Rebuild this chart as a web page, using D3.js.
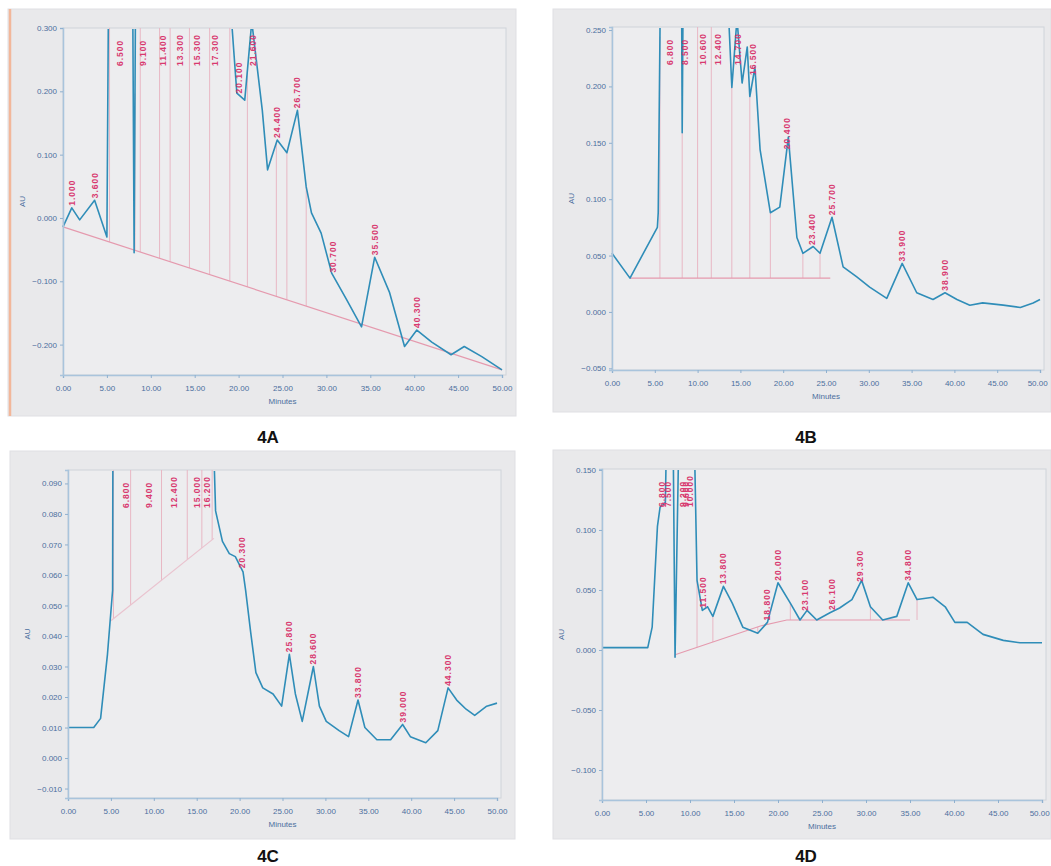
<!DOCTYPE html>
<html>
<head>
<meta charset="utf-8">
<script src="https://cdn.jsdelivr.net/npm/d3@7"></script>
<style>
  body { margin: 0; background: #fff; }
  svg { display: block; }
  text { font-family: "Liberation Sans", Arial, sans-serif; }
</style>
</head>
<body>
<svg id="fig" width="1051" height="866"></svg>
<script>
// DATA (minutes / AU)
const xTicks = [0, 5, 10, 15, 20, 25, 30, 35, 40, 45, 50];

// 4A
const timesA = [0.0,1.0,1.9,3.6,5.0,5.3,6.5,7.8,8.1,8.4,9.1,11.4,13.3,15.3,17.3,19.0,19.8,20.7,21.5,22.7,23.3,24.4,25.5,26.7,27.7,28.3,29.4,30.6,32.3,34.0,35.5,37.2,38.9,40.3,42.0,44.2,45.7,47.7,50.0];
const valuesA = [-0.014,0.016,-0.003,0.028,-0.030,0.60,0.80,0.70,-0.055,0.70,0.90,0.75,0.70,0.72,0.68,0.35,0.197,0.186,0.31,0.170,0.076,0.123,0.103,0.170,0.049,0.008,-0.024,-0.087,-0.129,-0.172,-0.062,-0.118,-0.203,-0.177,-0.196,-0.216,-0.203,-0.219,-0.240];
const baseTimesA = [0, 50];
const baseValuesA = [-0.014, -0.240];
const peakTimesA = [1.0,3.6,6.5,9.1,11.4,13.3,15.3,17.3,20.1,21.6,24.4,26.7,30.7,35.5,40.3];
const dropTimesA = [5.3,8.2,8.8,11.0,12.2,14.4,16.7,19.0,21.0,24.3,25.5,27.7];
const yTicksA = [0.3, 0.2, 0.1, 0.0, -0.1, -0.2];

// 4B
const timesB = [0,2.1,5.3,5.4,5.8,6.8,8.0,8.2,8.5,10.6,12.4,13.4,14.0,14.6,15.2,15.8,16.1,16.7,17.3,18.5,19.6,20.6,21.6,22.3,23.5,24.3,25.7,27.0,28.6,30.1,32.1,33.9,35.6,37.5,38.9,40.3,41.8,43.3,45.7,47.7,49.2,50.0];
const valuesB = [0.052,0.030,0.075,0.088,0.40,0.60,0.50,0.159,0.50,0.55,0.45,0.30,0.199,0.26,0.203,0.235,0.191,0.217,0.144,0.088,0.093,0.155,0.066,0.052,0.058,0.052,0.084,0.040,0.031,0.022,0.012,0.043,0.017,0.011,0.017,0.011,0.006,0.008,0.006,0.004,0.008,0.011];
const baseTimesB = [2.1, 25.5];
const baseValuesB = [0.030, 0.030];
const peakTimesB = [6.8,8.5,10.6,12.4,14.7,16.5,20.4,23.4,25.7,33.9,38.9];
const dropTimesB = [5.6,8.2,10.0,11.6,14.0,16.1,18.5,22.3,24.3];
const yTicksB = [0.25, 0.20, 0.15, 0.10, 0.05, 0.0, -0.05];

// 4C
const timesC = [0,3.0,3.8,4.6,5.2,5.3,6.8,9.4,12.4,15.0,16.2,16.8,17.2,18.0,18.8,19.5,20.4,20.7,21.3,21.9,22.7,23.9,24.9,25.8,26.5,27.3,28.6,29.3,30.1,31.6,32.7,33.8,34.6,36.0,37.6,39.0,39.9,41.7,43.1,44.3,45.3,46.4,47.4,48.8,50.0];
const valuesC = [0.010,0.010,0.013,0.034,0.055,0.20,0.30,0.28,0.30,0.25,0.22,0.12,0.081,0.071,0.067,0.066,0.061,0.055,0.041,0.028,0.023,0.021,0.017,0.034,0.021,0.012,0.030,0.017,0.012,0.009,0.007,0.019,0.010,0.006,0.006,0.011,0.007,0.005,0.009,0.023,0.019,0.016,0.014,0.017,0.018];
const baseTimesC = [5.0, 17.0];
const baseValuesC = [0.045, 0.072];
const peakTimesC = [6.8,9.4,12.4,15.0,16.2,20.3,25.8,28.6,33.8,39.0,44.3];
const dropTimesC = [5.3,7.3,10.9,13.9,15.6,16.8];
const yTicksC = [0.09, 0.08, 0.07, 0.06, 0.05, 0.04, 0.03, 0.02, 0.01, 0.0, -0.01];

// 4D
const timesD = [0,5.2,5.7,6.3,6.6,7.2,7.5,8.0,8.3,8.9,10.3,10.8,11.4,12.0,12.6,13.8,14.8,16.0,17.7,18.8,20.0,21.4,22.5,23.3,24.4,25.9,27.0,28.4,29.5,30.5,31.9,33.5,34.8,35.8,37.6,39.0,40.1,41.5,43.3,45.6,47.5,50.0];
const valuesD = [0.002,0.002,0.019,0.103,0.119,0.123,0.25,0.25,-0.006,0.25,0.25,0.058,0.033,0.036,0.028,0.053,0.039,0.019,0.014,0.023,0.056,0.039,0.025,0.033,0.025,0.031,0.035,0.042,0.058,0.036,0.025,0.028,0.056,0.042,0.044,0.036,0.023,0.023,0.013,0.008,0.006,0.006];
const baseTimesD = [8.3, 18.0, 21.0, 35.0];
const baseValuesD = [-0.004, 0.020, 0.025, 0.025];
const peakTimesD = [6.8,7.5,9.2,9.6,10.0,11.5,13.8,18.8,20.0,23.1,26.1,29.3,34.8];
const dropTimesD = [8.3,10.8,12.6,17.7,21.4,24.4,30.5,35.8];
const yTicksD = [0.15, 0.10, 0.05, 0.0, -0.05, -0.10];

// SETUP: panel layout
const panels = [
    { id: "A", caption: "4A", box: [8, 9, 508, 407], plot: { l: 63, r: 502, t: 28, b: 375 },
      yDomain: [-0.248, 0.30], yTicks: yTicksA, times: timesA, values: valuesA,
      baseT: baseTimesA, baseV: baseValuesA, peaks: peakTimesA, drops: dropTimesA,
      capX: 268, capY: 443, edge: true },
    { id: "B", caption: "4B", box: [553, 9, 498, 403], plot: { l: 612, r: 1040, t: 27, b: 370 },
      yDomain: [-0.0515, 0.2527], yTicks: yTicksB, times: timesB, values: valuesB,
      baseT: baseTimesB, baseV: baseValuesB, peaks: peakTimesB, drops: dropTimesB,
      capX: 806, capY: 443 },
    { id: "C", caption: "4C", box: [10, 451, 505, 388], plot: { l: 68, r: 497, t: 470, b: 798 },
      yDomain: [-0.0131, 0.0944], yTicks: yTicksC, times: timesC, values: valuesC,
      baseT: baseTimesC, baseV: baseValuesC, peaks: peakTimesC, drops: dropTimesC,
      capX: 268, capY: 862, faintBase: true },
    { id: "D", caption: "4D", box: [553, 450, 498, 389], plot: { l: 602, r: 1042, t: 469, b: 800 },
      yDomain: [-0.125, 0.1508], yTicks: yTicksD, times: timesD, values: valuesD,
      baseT: baseTimesD, baseV: baseValuesD, peaks: peakTimesD, drops: dropTimesD,
      capX: 806, capY: 862 }
];

const svg = d3.select("#fig");

panels.forEach(p => {
    const g = svg.append("g");
    const w = p.plot.r - p.plot.l, h = p.plot.b - p.plot.t;

    // panel background
    g.append("rect")
        .attr("x", p.box[0]).attr("y", p.box[1])
        .attr("width", p.box[2]).attr("height", p.box[3])
        .attr("fill", "#e9e9eb")
        .attr("stroke", "#dfdfe3");

    if (p.edge) {
        g.append("line")
            .attr("x1", p.box[0] + 2).attr("x2", p.box[0] + 2)
            .attr("y1", p.box[1]).attr("y2", p.box[1] + p.box[3])
            .attr("stroke", "#f2b79a").attr("stroke-width", 2.5);
    }

    // plot area
    g.append("rect")
        .attr("x", p.plot.l).attr("y", p.plot.t)
        .attr("width", w + 4).attr("height", h)
        .attr("fill", "#ededef")
        .attr("stroke", "#cfd4da");

    // scales
    const x = d3.scaleLinear().domain([0, 50]).range([p.plot.l, p.plot.r]);
    const y = d3.scaleLinear().domain(p.yDomain).range([p.plot.b, p.plot.t]);
    const yc = y.copy().clamp(true);
    const traceAt = d3.scaleLinear().domain(p.times).range(p.values).clamp(true);
    const baseAt = d3.scaleLinear().domain(p.baseT).range(p.baseV);

    g.append("clipPath").attr("id", "clip" + p.id)
        .append("rect")
        .attr("x", p.plot.l - 2).attr("y", p.plot.t + 1)
        .attr("width", w + 6).attr("height", h);

    // drop lines (integration marks)
    g.selectAll(".drop")
        .data(p.drops)
        .enter()
        .append("line")
        .attr("x1", d => x(d)).attr("x2", d => x(d))
        .attr("y1", d => yc(baseAt(d)))
        .attr("y2", d => yc(traceAt(d)))
        .attr("stroke", "#e8b7c4")
        .attr("stroke-width", 1);

    const inner = g.append("g").attr("clip-path", `url(#clip${p.id})`);

    // baseline
    const baseData = p.baseT.map((t, i) => ({ t, v: p.baseV[i] }));
    inner.append("path")
        .datum(baseData)
        .attr("d", d3.line().x(d => x(d.t)).y(d => y(d.v)))
        .attr("fill", "none")
        .attr("stroke", p.faintBase ? "#eac3cf" : "#e59aae")
        .attr("stroke-width", 1.2);

    // trace (saturated peaks run off the top and are clipped)
    const traceData = p.times.map((t, i) => ({ t, v: p.values[i] }));
    inner.append("path")
        .datum(traceData)
        .attr("d", d3.line().x(d => x(d.t)).y(d => y(d.v)))
        .attr("fill", "none")
        .attr("stroke", "#2f8db8")
        .attr("stroke-width", 1.6)
        .attr("stroke-linejoin", "round");

    // peak labels
    g.selectAll(".peak")
        .data(p.peaks)
        .enter()
        .append("text")
        .attr("transform", d => {
            const py = Math.max(y(traceAt(d)) - 2, p.plot.t + 38);
            return `translate(${x(d) + 3},${py}) rotate(-90)`;
        })
        .attr("font-size", 8.5)
        .attr("font-weight", "bold")
        .attr("letter-spacing", 1)
        .attr("fill", "#d8396f")
        .text(d => d3.format(".3f")(d));

    // axes
    const xAxis = g.append("g")
        .attr("transform", `translate(0,${p.plot.b})`)
        .call(d3.axisBottom(x).tickValues(xTicks).tickFormat(d3.format(".2f")).tickSize(3));
    const yAxis = g.append("g")
        .attr("transform", `translate(${p.plot.l},0)`)
        .call(d3.axisLeft(y).tickValues(p.yTicks).tickFormat(d3.format(".3f")).tickSize(3));

    [xAxis, yAxis].forEach(a => {
        a.select(".domain").attr("stroke", "#a9c4dc").attr("stroke-width", 1.5);
        a.selectAll(".tick line").attr("stroke", "#8fb0cf");
        a.selectAll(".tick text").attr("fill", "#4b6f9e").attr("font-size", 8);
    });
    xAxis.selectAll(".tick text").attr("dy", "1.2em");
    // keep the last tick label inside the page
    xAxis.selectAll(".tick text")
        .filter(d => d === 50 && p.plot.r > 1030)
        .attr("text-anchor", "end").attr("dx", "0.9em");

    // axis labels
    g.append("text")
        .attr("x", (p.plot.l + p.plot.r) / 2)
        .attr("y", p.plot.b + 29)
        .attr("text-anchor", "middle")
        .attr("font-size", 8)
        .attr("fill", "#4b6f9e")
        .text("Minutes");

    g.append("text")
        .attr("transform", `translate(${p.plot.l - 38},${(p.plot.t + p.plot.b) / 2}) rotate(-90)`)
        .attr("text-anchor", "middle")
        .attr("font-size", 8)
        .attr("fill", "#4b6f9e")
        .text("AU");

    // caption
    svg.append("text")
        .attr("x", p.capX)
        .attr("y", p.capY)
        .attr("text-anchor", "middle")
        .attr("font-size", 17)
        .attr("font-weight", "bold")
        .attr("fill", "#111")
        .text(p.caption);
});
</script>
</body>
</html>
